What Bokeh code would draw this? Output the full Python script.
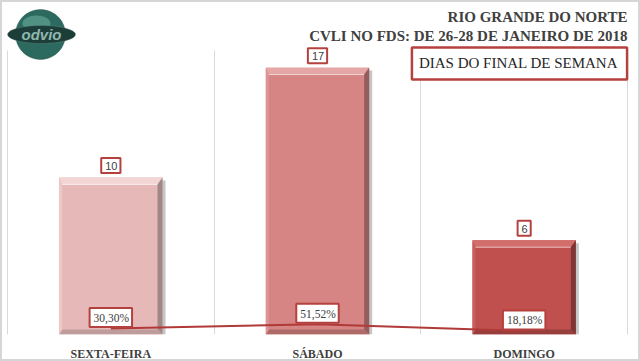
import numpy as np
from bokeh.plotting import figure
from bokeh.models import Range1d, FactorRange, FixedTicker, Label, PolyAnnotation
from bokeh.core.properties import value
from bokeh.embed import file_html
from bokeh.resources import INLINE

# ---- data ----
categories = ["SEXTA-FEIRA", "SÁBADO", "DOMINGO"]
counts = [10, 17, 6]
percents = [30.30, 51.52, 18.18]
percent_labels = ["30,30%", "51,52%", "18,18%"]
count_labels = ["10", "17", "6"]
title_line1 = "RIO GRANDE DO NORTE"
title_line2 = "CVLI NO FDS: DE 26-28 DE JANEIRO DE 2018"
legend_text = "DIAS DO FINAL DE SEMANA"
logo_text = "odvio"

# ---- styles ----
bar_main = ["#E6B9B8", "#D68584", "#C0504D"]
bar_top = ["#F2D6D5", "#E4A7A6", "#D26F6C"]
bar_left = ["#EDC8C7", "#DC9594", "#C85F5C"]
bar_right = ["#A08887", "#925D5C", "#7E3634"]
bar_bottom = ["#BE9C9B", "#AE6B6A", "#963F3D"]
red_border = "#B5413E"
text_dark = "#404040"

W, H = 640, 361
OFF = 2                       # canvas offset by the css border
PX_UNIT_X = 206.7             # pixels per category
PAD_PX = 5
FW = int(round(3 * PX_UNIT_X + 2 * PAD_PX))
BASE = 337                    # baseline y in page pixels
FH = BASE - OFF
MB = H - FH
PX_PER_COUNT = 15.84
Y_END = FH / PX_PER_COUNT
GRID_TOP = (BASE - 50) / PX_PER_COUNT
PCT_END = FH / 0.2

p = figure(width=W, height=H, output_backend="svg", toolbar_location=None,
           x_range=FactorRange(*categories, range_padding=PAD_PX / PX_UNIT_X,
                               range_padding_units="absolute"),
           y_range=Range1d(0, Y_END),
           min_border_left=0, min_border_right=W - FW, min_border_top=0,
           min_border_bottom=MB)
p.styles = {"border": "2px solid #d6d6d6", "box-sizing": "border-box"}
p.extra_y_ranges = {"pct": Range1d(0, PCT_END)}
p.outline_line_color = None
p.background_fill_color = "white"
p.border_fill_color = "white"

p.yaxis.visible = False
p.ygrid.visible = False
p.xgrid.ticker = FixedTicker(ticks=[0, 1, 2, 3])
p.xgrid.grid_line_color = "#D9D9D9"
p.xgrid.grid_line_width = 1
p.xgrid.cross_bounds = (0, GRID_TOP)

ax = p.xaxis[0]
ax.axis_line_color = None
ax.major_tick_line_color = None
ax.minor_tick_line_color = None
ax.major_label_standoff = 6
ax.major_label_text_font = "Liberation Serif"
ax.major_label_text_font_style = "bold"
ax.major_label_text_font_size = "12px"
ax.major_label_text_color = text_dark

# ---- bars with bevel ----
px_x = 1.0 / PX_UNIT_X
px_y = 1.0 / PX_PER_COUNT
half = 0.25
bt, bb, bl, br = 7 * px_y, 5 * px_y, 3 * px_x, 5 * px_x
centers = [i + 0.5 for i in range(len(categories))]

p.quad(left=[c + half - 1 * px_x for c in centers], right=[c + half + 3 * px_x for c in centers],
       bottom=[0] * len(counts), top=[v - 3 * px_y for v in counts],
       fill_color="#7f7f7f", fill_alpha=0.45, line_color=None)
p.quad(left=[c - half for c in centers], right=[c + half for c in centers],
       bottom=[0] * len(counts), top=counts, fill_color=bar_main, line_color=None)

xs, ys, cols = [], [], []
for i, (c, v) in enumerate(zip(centers, counts)):
    x0, x1, y0, y1 = c - half, c + half, 0, v
    xs.append([x0, x1, x1 - br, x0 + bl]); ys.append([y1, y1, y1 - bt, y1 - bt]); cols.append(bar_top[i])
    xs.append([x1, x1, x1 - br, x1 - br]); ys.append([y1, y0, y0 + bb, y1 - bt]); cols.append(bar_right[i])
    xs.append([x0, x1, x1 - br, x0 + bl]); ys.append([y0, y0, y0 + bb, y0 + bb]); cols.append(bar_bottom[i])
    xs.append([x0, x0, x0 + bl, x0 + bl]); ys.append([y0, y1, y1 - bt, y0 + bb]); cols.append(bar_left[i])
p.patches(xs, ys, fill_color=cols, line_color=None)
p.segment(x0=[c - half + bl for c in centers], x1=[c + half - br for c in centers],
          y0=[v - bt for v in counts], y1=[v - bt for v in counts],
          line_color="white", line_alpha=0.6, line_width=1)

# ---- percent line ----
p.line(centers, percents, y_range_name="pct", line_color="#B03A38", line_width=2)

# ---- labels ----
p.text(x=centers, y=counts, text=count_labels, text_align="center",
       text_baseline="middle", y_offset=-12, text_font=value("Liberation Sans"),
       text_font_size="11px", text_color=text_dark,
       background_fill_color="white", border_line_color=red_border,
       border_line_width=2, padding=(4, 3, 4, 3))
p.text(x=centers, y=percents, text=percent_labels, y_range_name="pct",
       text_align="center", text_baseline="middle", y_offset=-11,
       text_font=value("Liberation Serif"), text_font_size="11.5px",
       text_color=text_dark, background_fill_color="white",
       border_line_color=red_border, border_line_width=2, padding=(4, 3, 4, 3))

# ---- titles (screen units relative to frame bottom-left) ----
def sy(img_y):
    return BASE - img_y

def sx(img_x):
    return img_x - OFF

p.add_layout(Label(x=sx(627), y=sy(19), x_units="screen", y_units="screen",
                   text=title_line1, text_align="right", text_baseline="middle",
                   text_font="Liberation Serif", text_font_style="bold",
                   text_font_size="15px", text_color=text_dark))
p.add_layout(Label(x=sx(627), y=sy(38), x_units="screen", y_units="screen",
                   text=title_line2, text_align="right", text_baseline="middle",
                   text_font="Liberation Serif", text_font_style="bold",
                   text_font_size="15px", text_color=text_dark))
p.add_layout(Label(x=sx(519), y=sy(66), x_units="screen", y_units="screen",
                   text=legend_text, text_align="center", text_baseline="middle",
                   text_font="Liberation Serif", text_font_size="15px",
                   text_color="#262626", background_fill_color="white",
                   border_line_color=red_border, border_line_width=2.5,
                   padding=(7, 9, 7, 9)))

# ---- logo ----
t = np.linspace(0, 2 * np.pi, 60)
lcx, lcy = sx(40), sy(37)
p.add_layout(PolyAnnotation(xs=list(lcx + 25 * np.cos(t)), ys=list(lcy + 25 * np.sin(t)),
                            xs_units="screen", ys_units="screen",
                            fill_color="#2C6A60", fill_alpha=1, line_color="#1C3F3A", line_width=1))
p.add_layout(PolyAnnotation(xs=list(lcx - 4 + 14 * np.cos(t)), ys=list(lcy + 11 + 8 * np.sin(t)),
                            xs_units="screen", ys_units="screen",
                            fill_color="#6FB0A2", fill_alpha=0.55, line_color=None))
p.add_layout(PolyAnnotation(xs=list(lcx + 1 + 34 * np.cos(t)), ys=list(lcy + 9 * np.sin(t)),
                            xs_units="screen", ys_units="screen",
                            fill_color="#1D3D38", fill_alpha=1, line_color="#6E9C93", line_width=1))
p.add_layout(Label(x=lcx + 1, y=lcy, x_units="screen", y_units="screen", text=logo_text,
                   text_align="center", text_baseline="middle", text_font="Liberation Sans",
                   text_font_style="bold italic", text_font_size="15px", text_color="#8FB8AE"))

open("out.html", "w").write(file_html(p, INLINE))
